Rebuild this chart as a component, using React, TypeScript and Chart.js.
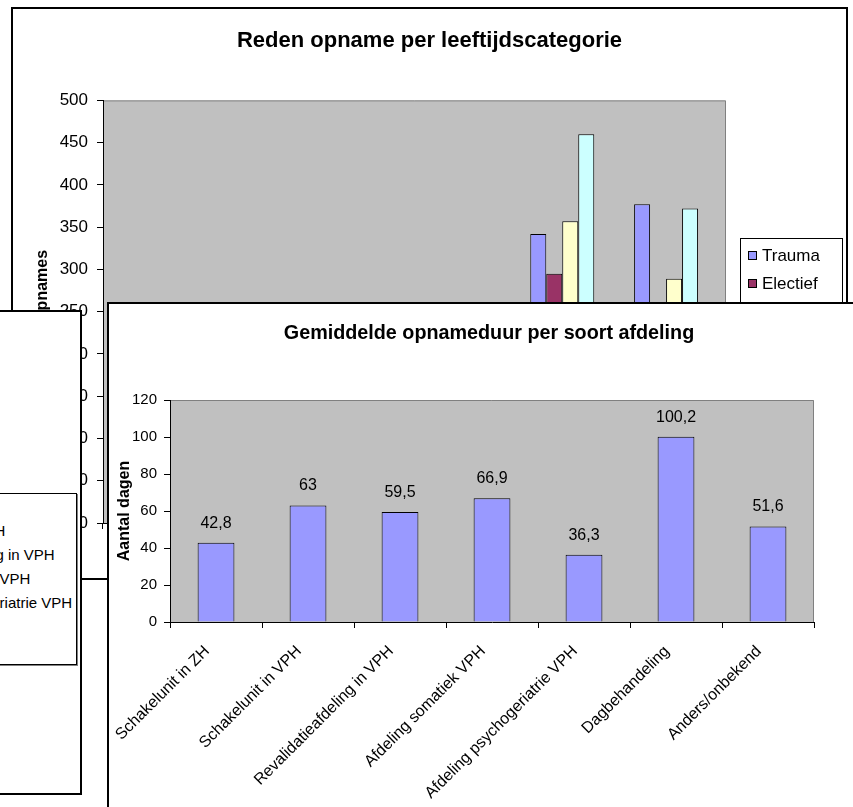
import { useEffect, useRef } from "react";
import { Chart, registerables } from "chart.js";

Chart.register(...registerables);

const FONT = '"Liberation Sans", Arial, Helvetica, sans-serif';

// Reden opname per leeftijdscategorie (aantal opnames)
const leeftijdscategorieen = ["< 65 jaar", "65-69 jaar", "70-74 jaar", "75-79 jaar", "80-84 jaar", "85+ jaar"];
const redenLabels = ["Trauma", "Electief", "Acuut", "Overig", "Onbekend"];
const redenKleuren = ["#9999FF", "#993366", "#FFFFCC", "#CCFFFF", "#660066"];
const traumaOpnames = [24, 31, 58, 132, 342, 377];
const electiefOpnames = [36, 42, 71, 118, 295, 164];
const acuutOpnames = [19, 27, 49, 121, 357, 289];
const overigOpnames = [41, 55, 96, 187, 460, 372];
const onbekendOpnames = [6, 8, 12, 21, 38, 33];
const opnamesAsMin = 0;
const opnamesAsMax = 500;
const opnamesStap = 50;

// Gemiddelde opnameduur per soort afdeling (aantal dagen)
const afdelingen = [
  "Schakelunit in ZH",
  "Schakelunit in VPH",
  "Revalidatieafdeling in VPH",
  "Afdeling somatiek VPH",
  "Afdeling psychogeriatrie VPH",
  "Dagbehandeling",
  "Anders/onbekend",
];
const gemiddeldeDagen = [42.8, 63, 59.5, 66.9, 36.3, 100.2, 51.6];
const dagenAsMin = 0;
const dagenAsMax = 120;
const dagenStap = 20;

// Legend colours of the partly hidden afdeling chart on the left
const afdelingKleuren = ["#9999FF", "#993366", "#FFFFCC", "#CCFFFF", "#660066", "#FF8080", "#0066CC"];

const formatNl = (v: number) => String(v).replace(".", ",");

// Grey plot area with a darker frame on top and right, like classic Excel charts
const plotFrame = {
  id: "plotFrame",
  beforeDraw(chart: any) {
    const { ctx, chartArea: a } = chart;
    ctx.save();
    ctx.fillStyle = "#C0C0C0";
    ctx.fillRect(a.left, a.top, a.right - a.left, a.bottom - a.top);
    ctx.strokeStyle = "#808080";
    ctx.lineWidth = 1;
    ctx.beginPath();
    ctx.moveTo(a.left, a.top + 0.5);
    ctx.lineTo(a.right - 0.5, a.top + 0.5);
    ctx.lineTo(a.right - 0.5, a.bottom);
    ctx.stroke();
    ctx.restore();
  },
};

// Boxed legend at a fixed spot right of the plot
const boxLegend = {
  id: "boxLegend",
  afterDraw(chart: any, _args: any, opts: any) {
    const { ctx } = chart;
    const { x, y, width, rowHeight, padTop, fontSize } = opts;
    const sets = chart.data.datasets;
    const h = padTop * 2 + rowHeight * (sets.length - 1);
    ctx.save();
    ctx.fillStyle = "#FFFFFF";
    ctx.fillRect(x, y, width, h);
    ctx.strokeStyle = "#000000";
    ctx.lineWidth = 1;
    ctx.strokeRect(x + 0.5, y + 0.5, width, h);
    ctx.font = `${fontSize}px ${FONT}`;
    ctx.textBaseline = "middle";
    ctx.textAlign = "left";
    sets.forEach((ds: any, i: number) => {
      const cy = Math.round(y + padTop + i * rowHeight);
      ctx.fillStyle = ds.backgroundColor;
      ctx.fillRect(x + 8, cy - 4, 8, 8);
      ctx.strokeRect(x + 8.5, cy - 3.5, 8, 8);
      ctx.fillStyle = "#000000";
      ctx.fillText(ds.label, x + 22, cy + 1);
    });
    ctx.restore();
  },
};

// Value written above each bar
const valueLabels = {
  id: "valueLabels",
  afterDatasetsDraw(chart: any, _args: any, opts: any) {
    const { ctx } = chart;
    const meta = chart.getDatasetMeta(0);
    const data = chart.data.datasets[0].data;
    ctx.save();
    ctx.font = `${opts.size}px ${FONT}`;
    ctx.fillStyle = "#000000";
    ctx.textAlign = "center";
    ctx.textBaseline = "middle";
    meta.data.forEach((el: any, i: number) => {
      ctx.fillText(formatNl(data[i]), el.x, el.y - opts.offset);
    });
    ctx.restore();
  },
};

// Empty right-hand axis that keeps room free beside the plot
const spacerAxis = (width: number) => ({
  type: "linear" as const,
  position: "right" as const,
  ticks: { display: false },
  grid: { display: false },
  border: { display: false },
  afterFit: (s: any) => {
    s.width = width;
  },
});

function OpnameChart() {
  const ref = useRef<HTMLCanvasElement>(null);
  useEffect(() => {
    const series = [traumaOpnames, electiefOpnames, acuutOpnames, overigOpnames, onbekendOpnames];
    const chart = new Chart(ref.current!, {
      type: "bar",
      data: {
        labels: leeftijdscategorieen,
        datasets: series.map((values, i) => ({
          label: redenLabels[i],
          data: values,
          backgroundColor: redenKleuren[i],
          borderColor: "#000000",
          borderWidth: 1,
          categoryPercentage: 0.77,
          barPercentage: 1,
        })),
      },
      options: {
        animation: false,
        responsive: false,
        devicePixelRatio: 1,
        layout: { padding: 0 },
        plugins: {
          legend: { display: false },
          tooltip: { enabled: false },
          title: {
            display: true,
            text: "Reden opname per leeftijdscategorie",
            color: "#000000",
            font: { family: FONT, size: 22, weight: "bold" },
            padding: { top: 18.5, bottom: 46.5 },
          },
          boxLegend: { x: 727, y: 229, width: 102, rowHeight: 28, padTop: 17, fontSize: 17 },
        } as any,
        scales: {
          x: {
            grid: { drawOnChartArea: false, tickLength: 6, color: "#000000" },
            border: { color: "#000000" },
            ticks: { color: "#000000", font: { family: FONT, size: 17 } },
            afterFit: (s: any) => {
              s.height = 55;
            },
          },
          y: {
            min: opnamesAsMin,
            max: opnamesAsMax,
            ticks: { stepSize: opnamesStap, color: "#000000", padding: 9, font: { family: FONT, size: 17 } },
            grid: { drawOnChartArea: false, tickLength: 6, color: "#000000" },
            border: { color: "#000000" },
            title: {
              display: true,
              text: "Aantal opnames",
              color: "#000000",
              font: { family: FONT, size: 16, weight: "bold" },
              padding: { top: 20, bottom: 0 },
            },
            afterFit: (s: any) => {
              s.width = 90;
            },
          },
          legendRuimte: spacerAxis(120),
        } as any,
      },
      plugins: [plotFrame, boxLegend],
    });
    return () => chart.destroy();
  }, []);
  return <canvas ref={ref} width={833} height={569} style={{ display: "block" }} />;
}

function OpnameduurChart() {
  const ref = useRef<HTMLCanvasElement>(null);
  useEffect(() => {
    const chart = new Chart(ref.current!, {
      type: "bar",
      data: {
        labels: afdelingen,
        datasets: [
          {
            label: "Gemiddelde opnameduur",
            data: gemiddeldeDagen,
            backgroundColor: "#9999FF",
            borderColor: "#000000",
            borderWidth: 1,
            categoryPercentage: 0.4,
            barPercentage: 1,
          },
        ],
      },
      options: {
        animation: false,
        responsive: false,
        devicePixelRatio: 1,
        layout: { padding: 0 },
        plugins: {
          legend: { display: false },
          tooltip: { enabled: false },
          title: {
            display: true,
            text: "Gemiddelde opnameduur per soort afdeling",
            color: "#000000",
            font: { family: FONT, size: 19.75, weight: "bold" },
            padding: { top: 18, bottom: 54.3 },
          },
          valueLabels: { size: 16, offset: 19.5 },
        } as any,
        scales: {
          x: {
            grid: { drawOnChartArea: false, tickLength: 6, color: "#000000" },
            border: { color: "#000000" },
            ticks: {
              color: "#000000",
              autoSkip: false,
              maxRotation: 45,
              minRotation: 45,
              padding: 14,
              labelOffset: -9,
              font: { family: FONT, size: 16 },
            },
            afterFit: (s: any) => {
              s.height = 278;
            },
          },
          y: {
            min: dagenAsMin,
            max: dagenAsMax,
            ticks: { stepSize: dagenStap, color: "#000000", padding: 7, font: { family: FONT, size: 15 } },
            grid: { drawOnChartArea: false, tickLength: 6, color: "#000000" },
            border: { color: "#000000" },
            title: {
              display: true,
              text: "Aantal dagen",
              color: "#000000",
              font: { family: FONT, size: 16, weight: "bold" },
              padding: { top: 6, bottom: 0 },
            },
            afterFit: (s: any) => {
              s.width = 61;
            },
          },
          rechterRuimte: spacerAxis(55),
        } as any,
      },
      plugins: [plotFrame, valueLabels],
    });
    return () => chart.destroy();
  }, []);
  return <canvas ref={ref} width={760} height={596} style={{ display: "block" }} />;
}

function AfdelingLegenda() {
  return (
    <div
      style={{
        position: "absolute",
        left: -250,
        top: 493,
        width: 327,
        height: 172,
        boxSizing: "border-box",
        border: "1px solid #000",
        boxShadow: "1px 1px 0 #808080",
        background: "#fff",
        paddingTop: 1,
        fontFamily: FONT,
        fontSize: 15,
        lineHeight: "24px",
      }}
    >
      {afdelingen.map((naam, i) => (
        <div key={naam} style={{ position: "relative", paddingLeft: 126, whiteSpace: "nowrap" }}>
          <span
            style={{
              position: "absolute",
              left: 111,
              top: 8,
              width: 8,
              height: 8,
              boxSizing: "border-box",
              border: "1px solid #000",
              background: afdelingKleuren[i],
            }}
          />
          {naam}
        </div>
      ))}
    </div>
  );
}

export default function App() {
  return (
    <div
      style={{
        position: "absolute",
        left: 0,
        top: 0,
        width: 853,
        height: 807,
        overflow: "hidden",
        background: "#fff",
      }}
    >
      <div
        style={{
          position: "absolute",
          left: 11,
          top: 7,
          width: 837,
          height: 573,
          boxSizing: "border-box",
          border: "2px solid #000",
          background: "#fff",
          zIndex: 1,
        }}
      >
        <OpnameChart />
      </div>
      <div
        style={{
          position: "absolute",
          left: -200,
          top: 310,
          width: 282,
          height: 485,
          boxSizing: "border-box",
          border: "2px solid #000",
          background: "#fff",
          zIndex: 2,
        }}
      />
      <div style={{ position: "absolute", left: 0, top: 0, zIndex: 3 }}>
        <AfdelingLegenda />
      </div>
      <div
        style={{
          position: "absolute",
          left: 107,
          top: 302,
          width: 764,
          height: 600,
          boxSizing: "border-box",
          border: "2px solid #000",
          background: "#fff",
          zIndex: 4,
        }}
      >
        <OpnameduurChart />
      </div>
    </div>
  );
}
